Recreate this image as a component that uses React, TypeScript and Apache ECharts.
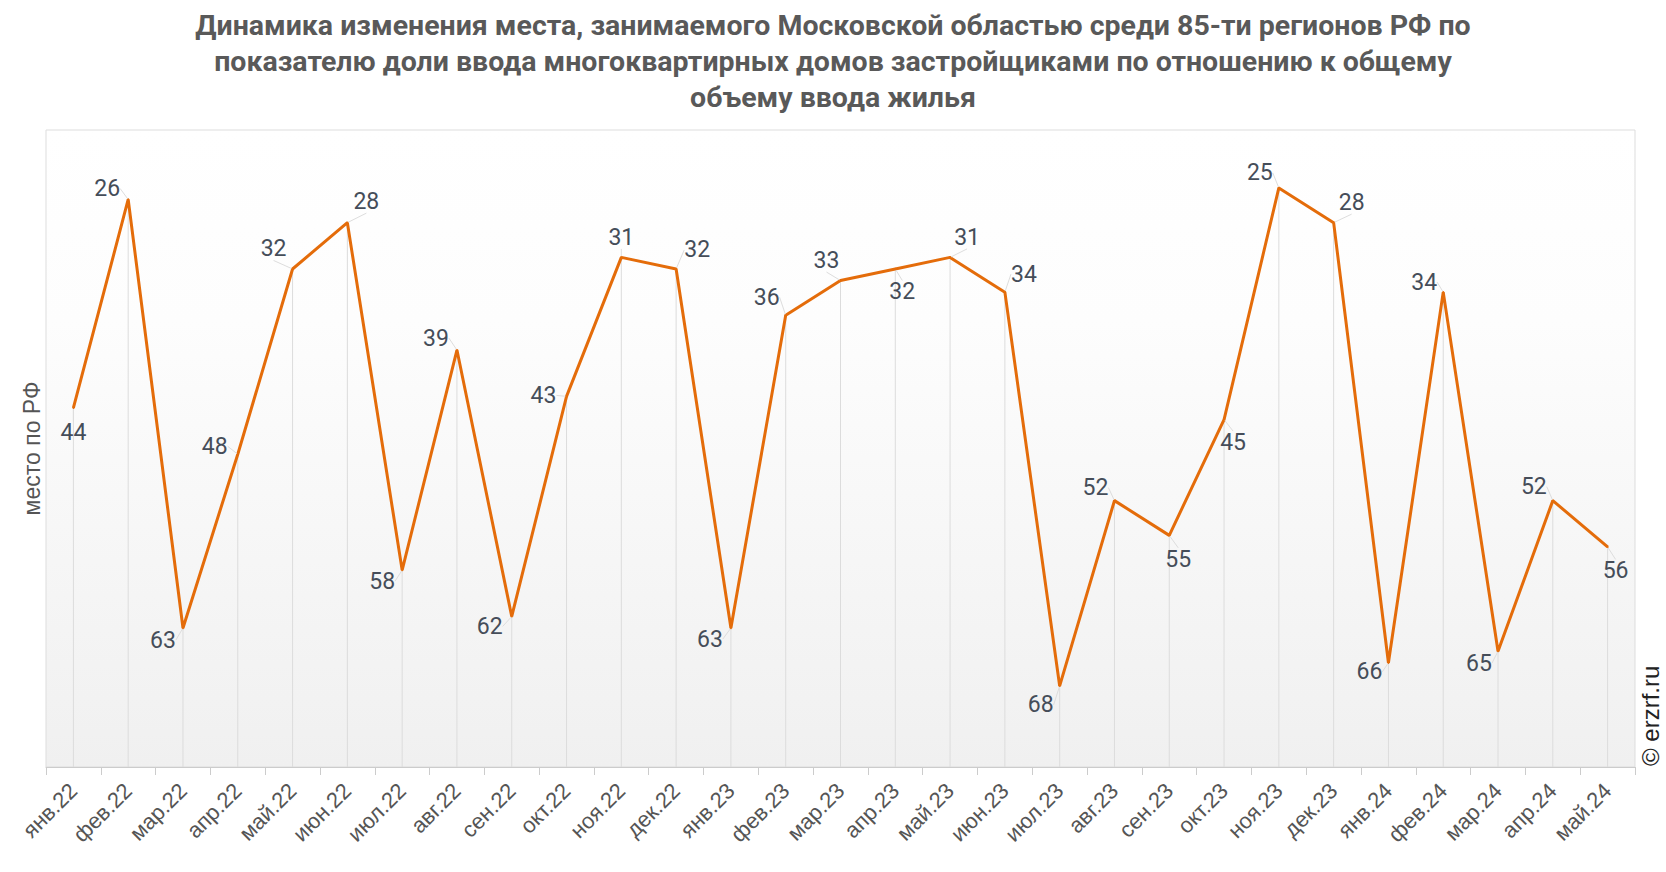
import React, { useEffect, useRef } from "react";
import * as echarts from "echarts";

const TITLE =
  "Динамика изменения места, занимаемого Московской областью среди 85-ти регионов РФ по\nпоказателю доли ввода многоквартирных домов застройщиками по отношению к общему\nобъему ввода жилья";

const CATEGORIES = [
  "янв.22", "фев.22", "мар.22", "апр.22", "май.22", "июн.22", "июл.22", "авг.22",
  "сен.22", "окт.22", "ноя.22", "дек.22", "янв.23", "фев.23", "мар.23", "апр.23",
  "май.23", "июн.23", "июл.23", "авг.23", "сен.23", "окт.23", "ноя.23", "дек.23",
  "янв.24", "фев.24", "мар.24", "апр.24", "май.24",
];

const RANKS = [
  44, 26, 63, 48, 32, 28, 58, 39, 62, 43, 31, 32, 63, 36, 33, 32, 31, 34, 68, 52,
  55, 45, 25, 28, 66, 34, 65, 52, 56,
];

const Y_MIN = 20;
const Y_MAX = 75;
const Y_NAME = "место по РФ";
const COPYRIGHT = "© erzrf.ru";

// label offsets (px) relative to each point — styling only
const LABEL_OFFSETS: [number, number][] = [
  [0, 25], [-21, -11], [-20, 12], [-23, -8], [-19, -20], [19, -21], [-20, 11], [-21, -12],
  [-22, 10], [-23, -1], [0, -20], [21, -19], [-21, 11], [-19, -18], [-14, -20], [7, 23],
  [17, -20], [19, -18], [-19, 19], [-19, -13], [9, 24], [9, 23], [-19, -15], [18, -20],
  [-19, 9], [-19, -10], [-19, 12], [-19, -14], [8, 24],
];

export default function App() {
  const ref = useRef<HTMLDivElement>(null);

  useEffect(() => {
    if (!ref.current) return;
    const chart = echarts.init(ref.current, undefined, { renderer: "svg" });
    const option: any = {
      animation: false,
      backgroundColor: "#ffffff",
      title: {
        text: TITLE,
        left: "center",
        top: 2,
        textStyle: {
          fontFamily: "Roboto",
          fontSize: 28.5,
          fontWeight: "bold",
          lineHeight: 36,
          color: "#595959",
        },
      },
      grid: {
        left: 46,
        right: 31,
        top: 130,
        bottom: 105,
        show: true,
        borderColor: "#dddddd",
        borderWidth: 1,
        backgroundColor: new echarts.graphic.LinearGradient(0, 0, 0, 1, [
          { offset: 0, color: "#ffffff" },
          { offset: 0.3, color: "#fdfdfd" },
          { offset: 1, color: "#f0f0f0" },
        ]),
        containLabel: false,
      },
      xAxis: {
        type: "category",
        data: CATEGORIES,
        boundaryGap: true,
        axisLine: { show: true, lineStyle: { color: "#cccccc", width: 1 } },
        axisTick: { show: true, length: 8, lineStyle: { color: "#cccccc" } },
        axisLabel: {
          rotate: 45,
          interval: 0,
          margin: 20,
          fontFamily: "Liberation Sans",
          fontSize: 22,
          color: "#555555",
        },
        splitLine: { show: false },
      },
      yAxis: {
        type: "value",
        inverse: true,
        min: Y_MIN,
        max: Y_MAX,
        name: Y_NAME,
        nameLocation: "middle",
        nameGap: 3,
        nameTextStyle: {
          fontFamily: "Liberation Sans",
          fontSize: 23,
          color: "#555555",
        },
        axisLine: { show: false },
        axisTick: { show: false },
        axisLabel: { show: false },
        splitLine: { show: false },
      },
      graphic: [
        {
          type: "text",
          x: 1650,
          y: 766,
          rotation: Math.PI / 2,
          style: {
            text: COPYRIGHT,
            fontFamily: "Liberation Sans",
            fontSize: 24,
            fill: "#222222",
            align: "left",
            verticalAlign: "middle",
          },
        },
      ],
      series: [
        {
          type: "custom",
          z: 1,
          silent: true,
          encode: { x: 0, y: 1 },
          data: RANKS.map((v, i) => [i, v]),
          renderItem: (params: any, api: any) => {
            const p = api.coord([api.value(0), api.value(1)]);
            const b = api.coord([api.value(0), Y_MAX]);
            return {
              type: "line",
              shape: { x1: p[0], y1: p[1], x2: b[0], y2: b[1] },
              style: { stroke: "#dcdcdc", lineWidth: 1 },
            };
          },
        },
        {
          type: "line",
          z: 3,
          data: RANKS,
          symbol: "circle",
          symbolSize: 2,
          showSymbol: true,
          itemStyle: { color: "#E46C0A" },
          lineStyle: { color: "#E46C0A", width: 3 },
          emphasis: { disabled: true },
          label: {
            show: true,
            position: "inside",
            fontFamily: "Roboto",
            fontSize: 23,
            color: "#454d59",
          },
          labelLine: {
            show: true,
            lineStyle: { color: "#dddddd", width: 1 },
          },
          labelLayout: (params: any) => {
            const o = LABEL_OFFSETS[params.dataIndex] || [0, -20];
            return { dx: o[0], dy: o[1] };
          },
        },
      ],
    };
    chart.setOption(option);
    return () => chart.dispose();
  }, []);

  return (
    <div
      ref={ref}
      style={{ position: "fixed", left: 0, top: 0, width: 1666, height: 872 }}
    />
  );
}
